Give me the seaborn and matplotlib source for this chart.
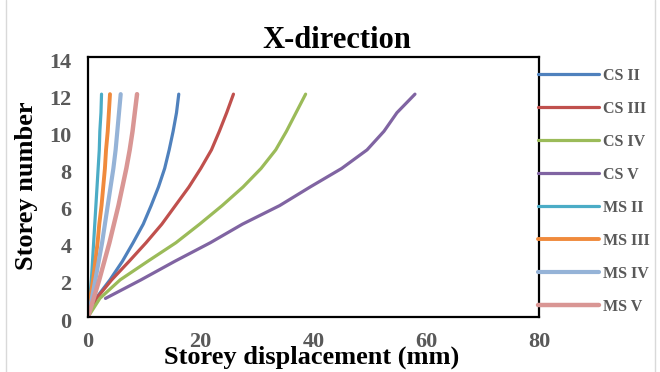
import numpy as np
import pandas as pd
import matplotlib
matplotlib.use("Agg")
import matplotlib.pyplot as plt
import matplotlib.transforms as mtransforms
import seaborn as sns
from matplotlib.lines import Line2D

sns.set_theme(style="white")
plt.rcParams['font.family'] = ['Liberation Serif', 'DejaVu Serif']

storeys = list(range(0, 13))
series_names = ["CS II", "CS III", "CS IV", "CS V", "MS II", "MS III", "MS IV", "MS V"]
cs_ii = [0, 1.4, 3.9, 6.1, 8.0, 9.8, 11.2, 12.5, 13.6, 14.4, 15.1, 15.7, 16.1]
cs_iii = [0, 1.5, 4.2, 7.3, 10.3, 13.1, 15.5, 17.9, 20.0, 21.9, 23.3, 24.6, 25.8]
cs_iv = [0, 2.1, 5.7, 10.6, 15.6, 19.8, 23.8, 27.5, 30.7, 33.3, 35.2, 36.9, 38.6]
cs_v = [None, 3.1, 9.4, 15.4, 21.7, 27.4, 34.0, 39.4, 45.0, 49.5, 52.5, 54.8, 58.0]
ms_ii = [0, 0.3, 0.6, 0.8, 1.0, 1.2, 1.4, 1.6, 1.8, 2.0, 2.1, 2.3, 2.4]
ms_iii = [0, 0.4, 0.9, 1.3, 1.7, 2.0, 2.4, 2.7, 3.0, 3.2, 3.5, 3.7, 3.9]
ms_iv = [0, 0.7, 1.3, 1.9, 2.5, 3.0, 3.5, 4.0, 4.5, 4.9, 5.2, 5.5, 5.8]
ms_v = [0, 1.0, 2.0, 2.9, 3.8, 4.6, 5.4, 6.1, 6.8, 7.4, 7.9, 8.3, 8.7]
x_ticks = [0, 20, 40, 60, 80]
y_ticks = [0, 2, 4, 6, 8, 10, 12, 14]

colors = ["#4F81BD", "#C0504D", "#9BBB59", "#8064A2", "#4BACC6", "#F08A3C", "#95B3D7", "#D99694"]
widths = [2.3, 2.3, 2.3, 2.3, 2.3, 2.8, 3.0, 3.2]

all_vals = [cs_ii, cs_iii, cs_iv, cs_v, ms_ii, ms_iii, ms_iv, ms_v]
rows = []
for name, vals in zip(series_names, all_vals):
    for s, v in zip(storeys, vals):
        if v is not None:
            rows.append({"series": name, "disp": v, "storey": s})
df = pd.DataFrame(rows)

fig = plt.figure(figsize=(6.6, 3.72), dpi=100)
ax = fig.add_axes([88/660, 1-317/372, (539-88)/660, 260/372])

for name, c, lw in zip(series_names, colors, widths):
    sub = df[df["series"] == name]
    sns.lineplot(data=sub, x="disp", y="storey", ax=ax, color=c, lw=lw,
                 sort=False, estimator=None, solid_capstyle="round", label=None)

ax.set_xlim(0, 80)
ax.set_ylim(0, 14)
ax.set_xticks(x_ticks)
ax.set_yticks(y_ticks)
ax.set_xlabel("")
ax.set_ylabel("")
ax.tick_params(length=0, labelsize=16, colors="#595959")
ax.tick_params(axis="x", pad=11)
ax.tick_params(axis="y", pad=12)
shift = mtransforms.ScaledTranslation(0, -3/100, fig.dpi_scale_trans)
for lab in ax.get_xticklabels() + ax.get_yticklabels():
    lab.set_fontweight("bold")
for lab in ax.get_yticklabels():
    lab.set_transform(lab.get_transform() + shift)
for sp in ax.spines.values():
    sp.set_visible(True)
    sp.set_color("black")
    sp.set_linewidth(1.6)

fig.text(337/660, 1-40/372, "X-direction", ha="center", va="center",
         fontsize=22, fontweight="bold", color="black")
fig.text(312/660, 1-357/372, "Storey displacement (mm)", ha="center", va="center",
         fontsize=19, fontweight="bold", color="black")
fig.text(27/660, 1-186/372, "Storey number", ha="center", va="center",
         rotation=90, fontsize=19, fontweight="bold", color="black")

handles = [Line2D([0], [0], color=c, lw=lw) for c, lw in zip(colors, widths)]
leg = fig.legend(handles, series_names, loc="upper left",
                 bbox_to_anchor=(538/660, 1-68/372), frameon=False,
                 handlelength=3.8, handletextpad=0.3, labelspacing=1.06,
                 prop={"family": "Liberation Serif", "weight": "bold", "size": 11.5},
                 borderaxespad=0, borderpad=0)
for t in leg.get_texts():
    t.set_color("#595959")

fig.add_artist(Line2D([6/660, 6/660], [0, 1], color="#d9d9d9", lw=1, transform=fig.transFigure))
fig.add_artist(Line2D([655/660, 655/660], [0, 1], color="#d9d9d9", lw=1, transform=fig.transFigure))

fig.savefig("out.png", dpi=100)
